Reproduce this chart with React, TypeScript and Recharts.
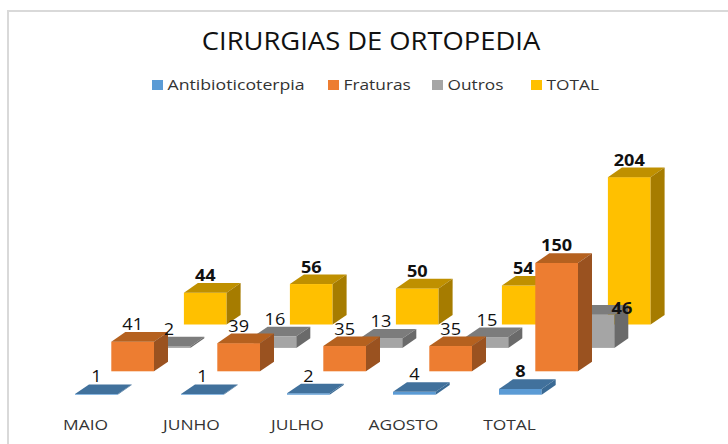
import { BarChart, Bar, XAxis, YAxis, LabelList } from "recharts";

const categories = ["MAIO", "JUNHO", "JULHO", "AGOSTO", "TOTAL"];
const antibiotico = [1, 1, 2, 4, 8];
const fraturas = [41, 39, 35, 35, 150];
const outros = [2, 16, 13, 15, 46];
const total = [44, 56, 50, 54, 204];

const rows = categories.map((name, i) => ({
  name,
  antibiotico: antibiotico[i],
  fraturas: fraturas[i],
  outros: outros[i],
  total: total[i],
}));

// depth is the row of the fake 3d floor, 0 = front
const SERIES = [
  { key: "antibiotico", label: "Antibioticoterpia", depth: 0, front: "#5b9bd5", top: "#41719c", side: "#3a6a94" },
  { key: "fraturas", label: "Fraturas", depth: 1, front: "#ed7d31", top: "#b5611f", side: "#9a5220" },
  { key: "outros", label: "Outros", depth: 2, front: "#a5a5a5", top: "#7c7c7c", side: "#6a6a6a" },
  { key: "total", label: "TOTAL", depth: 3, front: "#ffc000", top: "#bf9000", side: "#a67c00" },
];

const STEP_X = 36.3;
const STEP_Y = 23.4;
const DEPTH_X = 14;
const DEPTH_Y = 9.6;
const FONT = "'Open Sans', sans-serif";

// the reference text is stretched sideways, so scale x only
function Wide(props: any) {
  const { x, y, k, children, ...rest } = props;
  return (
    <text transform={`translate(${x},${y}) scale(${k},1)`} fontFamily={FONT} {...rest}>
      {children}
    </text>
  );
}

function Box3D(props: any) {
  const { x, y, width, height, s } = props;
  const l = x + s.depth * STEP_X;
  const r = l + width;
  const t = y - s.depth * STEP_Y;
  const b = t + height;
  return (
    <g>
      <rect x={l} y={t} width={width} height={height} fill={s.front} />
      <polygon
        points={`${l},${t} ${l + DEPTH_X},${t - DEPTH_Y} ${r + DEPTH_X},${t - DEPTH_Y} ${r},${t}`}
        fill={s.top}
      />
      <polygon
        points={`${r},${t} ${r + DEPTH_X},${t - DEPTH_Y} ${r + DEPTH_X},${b - DEPTH_Y} ${r},${b}`}
        fill={s.side}
      />
    </g>
  );
}

function BoxLabel(props: any) {
  const { x, y, width, value, index, s } = props;
  const last = index === categories.length - 1;
  const bold = s.key === "total" || last;
  // the big grey box has its label pushed to the right in the reference
  const nudged = last && s.key === "outros";
  return (
    <Wide
      x={x + s.depth * STEP_X + width / 2 + (nudged ? 29 : 0)}
      y={y - s.depth * STEP_Y - (nudged ? 1 : 11.5)}
      k={1.17}
      textAnchor="middle"
      fontSize={15.5}
      fontWeight={bold ? 700 : 400}
      fill="#111"
    >
      {value}
    </Wide>
  );
}

function CategoryTick({ x, y, payload }: any) {
  return (
    <Wide x={x - 10.5} y={y + 11} k={1.2} textAnchor="middle" fontSize={14.5} fill="#333">
      {payload.value}
    </Wide>
  );
}

function LegendRow() {
  const spots = [152, 328, 432, 531];
  return (
    <g>
      {SERIES.map((s, i) => (
        <g key={s.key}>
          <rect x={spots[i]} y={80} width={11} height={10} fill={s.front} />
          <Wide x={spots[i] + 15.5} y={90} k={i === 0 ? 1.18 : 1.155} fontSize={15} fill="#333">
            {s.label}
          </Wide>
        </g>
      ))}
    </g>
  );
}

export default function App() {
  return (
    <div style={{ position: "absolute", left: 0, top: 0, width: 728, height: 444, background: "#fff" }}>
      <BarChart
        width={728}
        height={444}
        data={rows}
        margin={{ top: 178, right: 155, bottom: 0, left: 43 }}
      >
        <path d="M8 444V11H728" fill="none" stroke="#d9d9d9" strokeWidth={2} />
        <Wide x={371} y={50} k={1.094} textAnchor="middle" fontSize={25} fill="#111">
          CIRURGIAS DE ORTOPEDIA
        </Wide>
        <LegendRow />
        {[0, 1, 2, 3].map((d) => (
          <XAxis
            key={d}
            xAxisId={d}
            dataKey="name"
            hide={d !== 0}
            height={49.3}
            axisLine={false}
            tickLine={false}
            tickMargin={18}
            interval={0}
            tick={<CategoryTick />}
          />
        ))}
        <YAxis hide domain={[0, 300]} />
        {[...SERIES].reverse().map((s) => (
          <Bar
            key={s.key}
            xAxisId={s.depth}
            dataKey={s.key}
            name={s.label}
            barSize={42.7}
            isAnimationActive={false}
            shape={(p: any) => <Box3D {...p} s={s} />}
          >
            <LabelList dataKey={s.key} content={(p: any) => <BoxLabel {...p} s={s} />} />
          </Bar>
        ))}
      </BarChart>
    </div>
  );
}
